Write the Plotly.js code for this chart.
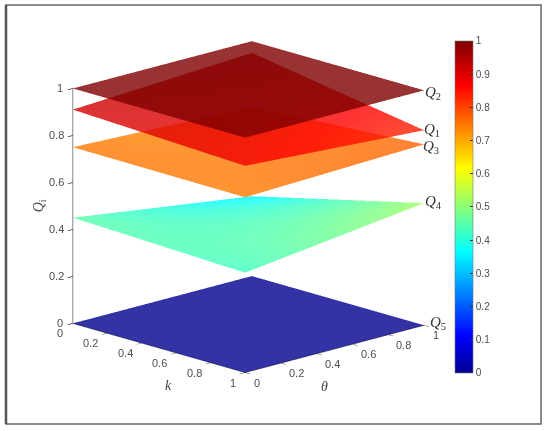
<!DOCTYPE html>
<html><head><meta charset="utf-8">
<script src="https://cdn.plot.ly/plotly-3.0.1.min.js"></script>
<style>html,body{margin:0;padding:0;background:#fff}</style></head>
<body><div id="plot" style="width:550px;height:431px"></div>
<script>
var k = [0, 1];
var theta = [0, 1];
// rows: theta, columns: k
var Q1 = [[0.91, 0.88], [0.95, 0.83]];
var Q2 = [[1, 1], [1, 1]];
var Q3 = [[0.75, 0.746], [0.72, 0.77]];
var Q4 = [[0.45, 0.425], [0.34, 0.52]];
var Q5 = [[0, 0], [0, 0]];
var axisTicks = [0, 0.2, 0.4, 0.6, 0.8, 1];
var barTicks = [0, 0.1, 0.2, 0.3, 0.4, 0.5, 0.6, 0.7, 0.8, 0.9, 1];
var jet = [[0,'rgb(0,0,143)'],[0.11,'rgb(0,0,255)'],[0.365,'rgb(0,255,255)'],[0.615,'rgb(255,255,0)'],[0.865,'rgb(255,0,0)'],[1,'rgb(128,0,0)']];
var surfaces = [Q5, Q4, Q3, Q1, Q2];
var sans = 'Liberation Sans, Arial, sans-serif', serif = 'Liberation Serif, serif';
var data = surfaces.map(function(z){
  return {type:'surface', x:k, y:theta, z:z, colorscale:jet, cmin:0, cmax:1, opacity:0.8, showscale:false,
    hoverinfo:'skip', lighting:{ambient:1,diffuse:0,specular:0,roughness:1,fresnel:0},
    contours:{x:{highlight:false},y:{highlight:false},z:{highlight:false}}};
});
data.push({type:'surface', x:k, y:theta, z:[[-9,-9],[-9,-9]], colorscale:jet, cmin:0, cmax:1, opacity:1, showscale:true, hoverinfo:'skip', surfacecolor:[[0,0],[1,1]],
  colorbar:{x:0.8273,xanchor:'left',xref:'paper',y:0.1346,yanchor:'bottom',yref:'paper',len:0.77,lenmode:'fraction',thickness:18,thicknessmode:'pixels',
    tickmode:'array',tickvals:barTicks,ticktext:barTicks.map(String),ticks:'inside',ticklen:3,tickcolor:'#333',tickfont:{family:sans,size:10,color:'#4d4d4d'},outlinecolor:'#777',outlinewidth:0.6,xpad:0,ypad:0}});
function ax(r){return {title:{text:''},range:r,autorange:false,tickmode:'array',tickvals:axisTicks,showticklabels:false,showgrid:false,zeroline:false,showbackground:false,showspikes:false,showline:true,linecolor:'#777',linewidth:2,ticks:'outside',ticklen:7,tickwidth:1.5,tickcolor:'#333'};}
function txt(x,y,z,t,dx,dy,size,extra){return Object.assign({x:x,y:y,z:z,text:t,showarrow:false,xshift:dx,yshift:-dy,font:{family:sans,size:size,color:'#4d4d4d'}},extra||{});}
function qlab(z,n,dx,dy){return txt(1,1,z,'<i>Q</i><sub>'+n+'</sub>',dx,dy,14,{font:{family:serif,size:15,color:'#333'}});}
var ann = [];
axisTicks.forEach(function(t){
  var edge = (t===0||t===1);
  ann.push(txt(t,0,0,String(t),edge?-13:-17,10,11));
  ann.push(txt(1,t,0,String(t),edge?11:15,10,11));
  ann.push(txt(0,0,t,String(t),edge?-13:-17,0,11));
});
ann.push(qlab(Q2[1][1],2,8,3));
ann.push(qlab(Q1[1][1],1,7,0));
ann.push(qlab(Q3[1][1],3,6,3));
ann.push(qlab(Q4[1][1],4,9,-1));
ann.push(qlab(Q5[1][1],5,13,-2));
ann.push(txt(0.5,0,0,'<i>k</i>',9,37,14,{font:{family:serif,size:14,color:'#444'}}));
ann.push(txt(1,0.5,0,'<i>θ</i>',-11,38,14,{font:{family:serif,size:14,color:'#444'}}));
ann.push(txt(0,0,0.5,'<i>Q</i><sub>i</sub>',-33,0,14,{font:{family:serif,size:14,color:'#444'},textangle:-90}));
var layout = {width:550,height:431,margin:{l:0,r:0,t:0,b:0},paper_bgcolor:'#fff',showlegend:false,
 scene:{domain:{x:[0.0027,0.9027],y:[0.0508,0.9908]},aspectmode:'manual',aspectratio:{x:1.227,y:1.227,z:1.21},
  camera:{eye:{x:1.06,y:-1.02,z:0.42},center:{x:0,y:0,z:0},up:{x:0,y:0,z:1},projection:{type:'orthographic'}},
  xaxis:ax([0,1]),yaxis:ax([0,1]),zaxis:ax([0,1.003]),annotations:ann},
 shapes:[{type:'rect',xref:'paper',yref:'paper',x0:6/550,x1:541/550,y0:7/431,y1:426/431,line:{color:'#666',width:1.5}},
  {type:'line',xref:'paper',yref:'paper',x0:6/550,x1:6/550,y0:7/431,y1:426/431,line:{color:'#555',width:2.5}}]};
Plotly.newPlot('plot',data,layout,{displayModeBar:false});
</script></body></html>
